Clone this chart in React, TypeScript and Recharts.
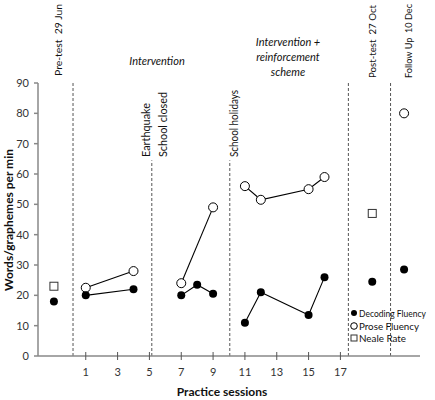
import React from 'react';
import { ReferenceLine, Scatter, ScatterChart, XAxis, YAxis } from 'recharts';

// practice sessions, grouped by phase
const interventionSessions = [1, 4];
const afterQuakeSessions = [7, 8, 9];
const reinforcementSessions = [11, 12, 15, 16];

const decodingIntervention = [20, 22];
const decodingAfterQuake = [20, 23.5, 20.5];
const decodingReinforcement = [11, 21, 13.5, 26];

const proseIntervention = [22.5, 28];
const proseAfterQuake = [24, null, 49];
const proseReinforcement = [56, 51.5, 55, 59];

// pre-test, post-test, follow up
const testPoints = [-1, 19, 21];
const decodingTests = [18, 24.5, 28.5];
const proseTests = [null, null, 80];
const nealeTests = [23, 47, null];

const phaseBreaks = [0.2, 5.15, 10.05, 17.5, 20.15];
const xTicks = [1, 3, 5, 7, 9, 11, 13, 15, 17];
const yTicks = [0, 10, 20, 30, 40, 50, 60, 70, 80, 90];

const FONT = 'Lato, "Open Sans", sans-serif';
const NBSP2 = '\u00a0\u00a0';

const toPoints = (xs: number[], ys: (number | null)[]) =>
  xs.map((x, i) => ({ x, y: ys[i] })).filter((p) => p.y != null);

const FilledDot = (props: any) => <circle cx={props.cx} cy={props.cy} r={props.r ?? 4} fill="#000" />;
const OpenDot = (props: any) => (
  <circle cx={props.cx} cy={props.cy} r={props.r ?? 4.5} fill="#fff" stroke="#000" strokeWidth={1} />
);
const SquareDot = (props: any) => {
  const h = props.r ?? 4;
  return (
    <rect x={props.cx - h} y={props.cy - h} width={h * 2} height={h * 2} fill="#fff" stroke="#333" strokeWidth={1} />
  );
};

const SessionTick = (props: any) => {
  const { x, y, payload } = props;
  return (
    <g>
      <line x1={x} x2={x} y1={y - 4} y2={y + 4} stroke="#555" />
      <text x={x} y={y + 20} textAnchor="middle" fontSize={11} fill="#333" fontFamily={FONT}>
        {payload.value}
      </text>
    </g>
  );
};

const lineStyle = { stroke: '#000', strokeWidth: 1.1 };

const segments = [
  { xs: interventionSessions, dec: decodingIntervention, prose: proseIntervention },
  { xs: afterQuakeSessions, dec: decodingAfterQuake, prose: proseAfterQuake },
  { xs: reinforcementSessions, dec: decodingReinforcement, prose: proseReinforcement },
];

// rotated label, held to a fixed length so it stays inside the frame
const VLabel = ({ x, y, len, size = 11.5, children }: any) => (
  <text
    x={x}
    y={y}
    transform={`rotate(-90 ${x} ${y})`}
    dominantBaseline="central"
    fontSize={size}
    fill="#111"
    fontFamily={FONT}
    textLength={len}
    lengthAdjust="spacingAndGlyphs"
  >
    {children}
  </text>
);

const App = () => {
  return (
    <div style={{ position: 'fixed', left: 0, top: 0, width: 435, height: 400, background: '#fff' }}>
      <ScatterChart width={435} height={400} margin={{ top: 83, right: 15, left: 0, bottom: 0 }}>
        <XAxis
          type="number"
          dataKey="x"
          domain={[-2, 22]}
          ticks={xTicks}
          interval={0}
          allowDataOverflow
          height={44}
          stroke="#888"
          strokeWidth={1.5}
          tickSize={0}
          tickMargin={0}
          tickLine={false}
          tick={<SessionTick />}
        />
        <YAxis
          type="number"
          dataKey="y"
          domain={[0, 90]}
          ticks={yTicks}
          interval={0}
          width={38}
          stroke="#888"
          strokeWidth={1.5}
          tickSize={4}
          tickMargin={5}
          tick={{ fontSize: 11, fill: '#333', fontFamily: FONT }}
        />
        {phaseBreaks.map((b, i) => (
          <ReferenceLine
            key={b}
            segment={[
              { x: b, y: 0 },
              { x: b, y: i === 1 || i === 2 ? 64.5 : 90 },
            ]}
            stroke="#555"
            strokeDasharray="3 2"
          />
        ))}
        {segments.map((s, i) => (
          <Scatter
            key={'p' + i}
            data={toPoints(s.xs, s.prose)}
            line={lineStyle}
            shape={<OpenDot />}
            isAnimationActive={false}
          />
        ))}
        {segments.map((s, i) => (
          <Scatter
            key={'d' + i}
            data={toPoints(s.xs, s.dec)}
            line={lineStyle}
            shape={<FilledDot />}
            isAnimationActive={false}
          />
        ))}
        <Scatter data={toPoints(testPoints, decodingTests)} shape={<FilledDot />} isAnimationActive={false} />
        <Scatter data={toPoints(testPoints, proseTests)} shape={<OpenDot />} isAnimationActive={false} />
        <Scatter data={toPoints(testPoints, nealeTests)} shape={<SquareDot />} isAnimationActive={false} />
      </ScatterChart>

      <svg
        width={435}
        height={400}
        style={{ position: 'absolute', left: 0, top: 0, pointerEvents: 'none' }}
        fontFamily={FONT}
      >
        <text
          x={8}
          y={220}
          transform="rotate(-90 8 220)"
          textAnchor="middle"
          dominantBaseline="central"
          fontSize={12}
          fontWeight="bold"
          fill="#111"
        >
          Words/graphemes per min
        </text>
        <text x={222} y={396} textAnchor="middle" fontSize={12} fontWeight="bold" fill="#111">
          Practice sessions
        </text>

        <VLabel x={58} y={76} len={72} size={10}>{`Pre-test${NBSP2}29 Jun`}</VLabel>
        <VLabel x={372} y={78} len={73} size={10}>{`Post-test${NBSP2}27 Oct`}</VLabel>
        <VLabel x={408} y={78} len={74} size={9.5}>{`Follow Up${NBSP2}10 Dec`}</VLabel>
        <VLabel x={145} y={157} len={54}>Earthquake</VLabel>
        <VLabel x={162} y={157} len={65}>School closed</VLabel>
        <VLabel x={233} y={157} len={67}>School holidays</VLabel>

        <text x={157} y={65} textAnchor="middle" fontSize={11} fontStyle="italic" fill="#111">
          Intervention
        </text>
        <text textAnchor="middle" fontSize={11} fontStyle="italic" fill="#111">
          <tspan x={288} y={46}>Intervention +</tspan>
          <tspan x={288} y={61}>reinforcement</tspan>
          <tspan x={288} y={76}>scheme</tspan>
        </text>

        <g fontSize={9.5} fill="#111">
          <FilledDot cx={354} cy={313} r={3} />
          <text x={359} y={316.5} textLength={67} lengthAdjust="spacingAndGlyphs">Decoding Fluency</text>
          <OpenDot cx={354} cy={326} r={3.3} />
          <text x={359} y={329.5} textLength={60} lengthAdjust="spacingAndGlyphs">Prose Fluency</text>
          <SquareDot cx={354} cy={338} r={3} />
          <text x={359} y={341.5} textLength={47} lengthAdjust="spacingAndGlyphs">Neale Rate</text>
        </g>
      </svg>
    </div>
  );
};

export default App;
